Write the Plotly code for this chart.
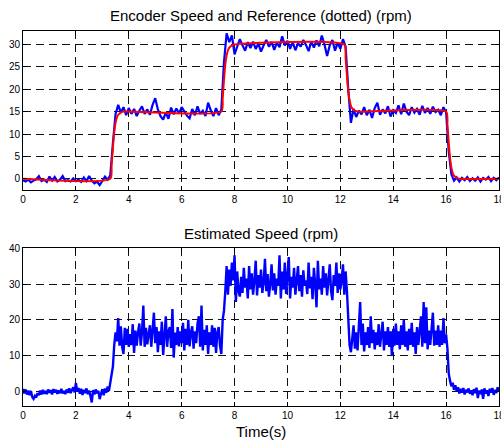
import numpy as np
import plotly.graph_objects as go

# ---------------- data ----------------
# Encoder speed, sampled every 0.1 s from t = 0 to 18 s (rpm)
ENC_DT = 0.1
encoder_speed = [
    # 0.0 - 3.2 s : stopped
    -0.3, -0.6, -0.2, -0.8, -0.4, -0.1, 0.6, -0.5, -0.2, -0.7,
    0.5, -0.4, 0.4, -0.6, -0.2, 0.6, -0.5, -0.3, -0.6, 0.1,
    -0.5, -0.2, -0.7, 0.3, -0.5, 0.6, -0.4, -1.0, -0.6, -1.4,
    -0.5, 0.5, -0.2,
    # 3.3 - 7.5 s : 15 rpm
    0.8, 8.0, 14.5, 16.5, 14.8, 16.0, 14.2, 15.8, 14.5, 15.6,
    14.0, 15.2, 16.2, 14.5, 15.5, 14.3, 16.5, 18.0, 15.5, 14.0,
    13.2, 14.8, 13.4, 15.9, 14.4, 15.7, 14.6, 16.0, 15.0, 14.1,
    13.5, 15.6, 14.2, 16.2, 14.5, 15.2, 14.0, 17.0, 15.3, 14.0,
    15.8, 14.2, 15.5,
    # 7.6 - 12.2 s : 30 rpm
    26.0, 32.5, 30.5, 32.0, 27.8, 29.5, 31.2, 29.8, 28.6, 30.5,
    29.2, 30.6, 29.0, 30.2, 28.4, 29.8, 31.0, 29.5, 30.6, 28.8,
    30.4, 29.4, 31.8, 29.8, 30.8, 29.0, 30.5, 28.7, 30.3, 29.5,
    31.0, 29.9, 28.5, 30.6, 29.3, 30.9, 29.6, 32.0, 30.0, 27.4,
    29.8, 31.0, 28.6, 30.4, 29.0, 31.2, 29.5,
    # 12.3 - 16.0 s : 15 rpm
    20.0, 12.5, 15.6, 13.8, 15.2, 14.4, 16.0, 14.2, 15.4, 13.6,
    15.8, 17.0, 14.3, 15.5, 14.6, 16.2, 13.9, 15.3, 14.7, 16.4,
    14.4, 16.8, 15.0, 14.2, 16.0, 14.8, 15.6, 14.3, 16.3, 14.7,
    15.8, 14.5, 16.1, 14.9, 15.4, 14.2, 16.0, 14.8,
    # 16.1 - 18.0 s : stopped
    6.0, 1.0, -0.4, 0.3, -0.6, 0.2, -0.3, 0.4, -0.5, 0.1,
    -0.4, 0.3, -0.6, 0.2, -0.2, 0.4, -0.5, 0.2, -0.3, 0.3,
]

# Speed reference (breakpoints of the filtered command)
ref_time = [0, 3.3, 3.35, 3.4, 3.45, 3.5, 3.55, 3.6, 3.7, 3.8,
            7.5, 7.55, 7.6, 7.65, 7.7, 7.75, 7.8, 7.9, 8.0,
            12.15, 12.2, 12.25, 12.3, 12.35, 12.4, 12.45, 12.55, 12.7,
            16.0, 16.05, 16.1, 16.15, 16.2, 16.25, 16.3, 16.4, 16.5, 18.0]
ref_speed = [0, 0, 3.0, 7.0, 10.5, 12.5, 13.7, 14.3, 14.8, 15.0,
             15.0, 18.0, 22.0, 25.5, 27.5, 28.7, 29.3, 29.8, 30.0,
             30.0, 27.0, 23.0, 19.5, 17.5, 16.3, 15.7, 15.2, 15.0,
             15.0, 12.0, 8.0, 4.5, 2.5, 1.3, 0.7, 0.2, 0.0, 0.0]

# Estimated speed, sampled every 0.05 s from t = 0 to 18 s (rpm)
EST_DT = 0.05
estimated_speed = [
    # 0.00 - 3.25 s
    0.8, -0.5, 0.6, -0.8, 0.3, -1.0, 0.2, -1.5, -2.0, -1.2,
    -1.6, -0.4, -1.0, 0.3, -0.8, 0.5, -0.6, 0.2, -0.7, 0.6,
    -0.3, 0.4, -0.8, 0.7, -0.2, 0.5, -0.6, 0.3, -0.4, 0.8,
    -0.5, 0.2, -0.7, 0.6, -0.3, 0.9, -0.4, 0.3, 1.2, -0.2,
    2.4, 0.1, 1.0, -0.6, 0.8, -0.9, 0.5, -0.4, 0.9, -0.7,
    0.3, -1.2, -3.0, 0.4, -0.8, 0.6, -0.5, 0.2, -2.1, -0.6,
    0.7, -1.0, 0.9, -0.3, 1.4, 0.2,
    # 3.30 - 3.55 s
    3.0, 5.5, 7.0, 13.0, 16.5, 14.0,
    # 3.60 - 7.50 s
    20.5, 12.8, 18.2, 12.5, 10.5, 17.8, 13.0, 17.5, 12.5, 16.0,
    13.0, 18.8, 10.8, 17.0, 12.8, 16.5, 19.0, 12.8, 16.5, 24.0,
    12.5, 17.8, 13.2, 16.0, 18.5, 12.5, 16.8, 22.0, 13.5, 18.0,
    11.0, 16.8, 13.0, 19.5, 10.2, 17.0, 21.0, 12.5, 16.8, 18.0,
    12.2, 23.0, 9.5, 16.5, 13.0, 18.0, 12.6, 16.8, 13.5, 19.2,
    11.5, 17.5, 13.0, 20.0, 12.6, 16.5, 18.2, 12.0, 16.8, 13.5,
    19.0, 21.0, 12.5, 24.0, 11.5, 17.2, 13.0, 18.5, 10.5, 16.5,
    13.0, 18.5, 12.5, 17.8, 10.8, 16.5, 18.0, 12.8, 10.5,
    # 7.55 - 7.70 s
    20.0, 22.5, 28.0, 35.0,
    # 7.75 - 12.20 s
    27.0, 34.0, 29.5, 36.0, 31.0, 38.0, 25.0, 33.5, 28.0, 26.5,
    32.0, 27.5, 34.5, 29.0, 31.5, 26.0, 35.0, 28.5, 33.0, 27.0,
    31.0, 36.5, 26.8, 32.5, 29.0, 34.0, 27.5, 30.5, 37.0, 28.0,
    32.8, 26.5, 30.0, 35.5, 28.2, 33.0, 27.0, 31.5, 29.5, 38.0,
    26.0, 33.5, 28.5, 36.0, 27.2, 31.8, 37.5, 26.0, 32.0, 29.0,
    34.5, 27.0, 30.5, 35.0, 28.0, 32.5, 26.5, 33.8, 29.5, 31.0,
    27.2, 36.0, 28.8, 32.0, 25.8, 34.5, 30.0, 23.5, 36.5, 28.5,
    31.5, 27.0, 35.0, 29.0, 33.0, 26.8, 31.2, 35.5, 28.0, 25.5,
    32.5, 29.5, 36.0, 27.5, 33.0, 28.5, 31.0, 35.5, 27.0, 33.5,
    # 12.25 - 12.40 s
    28.0, 20.0, 13.0, 11.0,
    # 12.45 - 16.00 s
    15.0, 18.5, 12.0, 16.5, 11.5, 17.0, 25.0, 13.0, 19.0, 11.2,
    16.5, 13.0, 18.0, 12.2, 21.0, 13.5, 17.2, 11.8, 16.5, 13.0,
    18.8, 12.5, 16.5, 19.5, 11.5, 16.8, 13.0, 18.0, 12.5, 16.8,
    10.0, 17.5, 12.8, 19.0, 13.0, 16.8, 11.8, 18.5, 13.0, 20.0,
    12.5, 16.8, 11.5, 17.5, 13.0, 19.2, 12.5, 16.5, 10.5, 18.0,
    13.0, 16.5, 21.0, 12.5, 25.0, 13.5, 23.5, 11.8, 17.0, 13.0,
    19.0, 22.0, 12.8, 17.0, 13.0, 18.5, 12.5, 17.0, 13.0, 20.5,
    13.5, 16.0,
    # 16.05 - 16.30 s
    12.0, 5.0, 3.0, 1.5, 2.5, 0.5,
    # 16.35 - 18.00 s
    1.8, 0.2, 1.2, -0.5, 0.8, -0.3, 1.0, -0.8, 0.5, -0.2,
    0.9, -0.6, 0.4, -1.0, 0.7, -0.4, 1.1, -1.8, 0.3, -0.7,
    0.6, -2.0, 0.9, -0.5, 0.4, -1.2, 0.8, -0.3, 1.0, -0.9,
    0.5, -0.4, 1.2, 0.2,
]

x_ticks = [0, 2, 4, 6, 8, 10, 12, 14, 16, 18]
top_y_ticks = [0, 5, 10, 15, 20, 25, 30]
bottom_y_ticks = [0, 10, 20, 30, 40]

enc_time = np.arange(len(encoder_speed)) * ENC_DT
est_time = np.arange(len(estimated_speed)) * EST_DT

# ---------------- figure ----------------
FONT = "Arial, 'Liberation Sans', sans-serif"
BLUE = "#0000ff"
RED = "#ff0000"

fig = go.Figure()
fig.add_trace(go.Scatter(x=enc_time, y=encoder_speed, mode="lines",
                         line=dict(color=BLUE, width=2.2),
                         xaxis="x", yaxis="y", showlegend=False))
fig.add_trace(go.Scatter(x=ref_time, y=ref_speed, mode="lines",
                         line=dict(color=RED, width=2, shape="spline", smoothing=0.6),
                         xaxis="x", yaxis="y", showlegend=False))
fig.add_trace(go.Scatter(x=est_time, y=estimated_speed, mode="lines",
                         line=dict(color=BLUE, width=2.4),
                         xaxis="x2", yaxis="y2", showlegend=False))

axis_style = dict(
    showline=True, linecolor="black", linewidth=1, mirror="ticks",
    ticks="inside", ticklen=4, tickcolor="black", tickwidth=1,
    showgrid=True, gridcolor="#111111", gridwidth=1, griddash="8px,5px",
    zeroline=False, ticklabeloverflow="allow", automargin=False,
    tickfont=dict(family=FONT, size=10, color="black"),
)

title_font = dict(family=FONT, size=15, color="black")

fig.update_layout(
    width=501, height=441,
    margin=dict(l=23, r=2, t=31, b=35),
    paper_bgcolor="white", plot_bgcolor="white",
    xaxis=dict(domain=[0, 1], range=[0, 18], tickvals=x_ticks, anchor="y", **axis_style),
    yaxis=dict(domain=[0.576, 1], range=[-2.5, 33], tickvals=top_y_ticks, anchor="x", **axis_style),
    xaxis2=dict(domain=[0, 1], range=[0, 18], tickvals=x_ticks, anchor="y2", **axis_style),
    yaxis2=dict(domain=[0, 0.421], range=[-4, 40], tickvals=bottom_y_ticks, anchor="x2", **axis_style),
    annotations=[
        dict(text="Encoder Speed and Reference (dotted) (rpm)", x=0.5, y=1.04,
             xref="paper", yref="paper", xanchor="center", yanchor="middle",
             showarrow=False, font=title_font),
        dict(text="Estimated Speed (rpm)", x=0.5, y=0.459,
             xref="paper", yref="paper", xanchor="center", yanchor="middle",
             showarrow=False, font=title_font),
        dict(text="Time(s)", x=0.5, y=-0.067,
             xref="paper", yref="paper", xanchor="center", yanchor="middle",
             showarrow=False, font=title_font),
    ],
)

fig.write_html("out.html")
